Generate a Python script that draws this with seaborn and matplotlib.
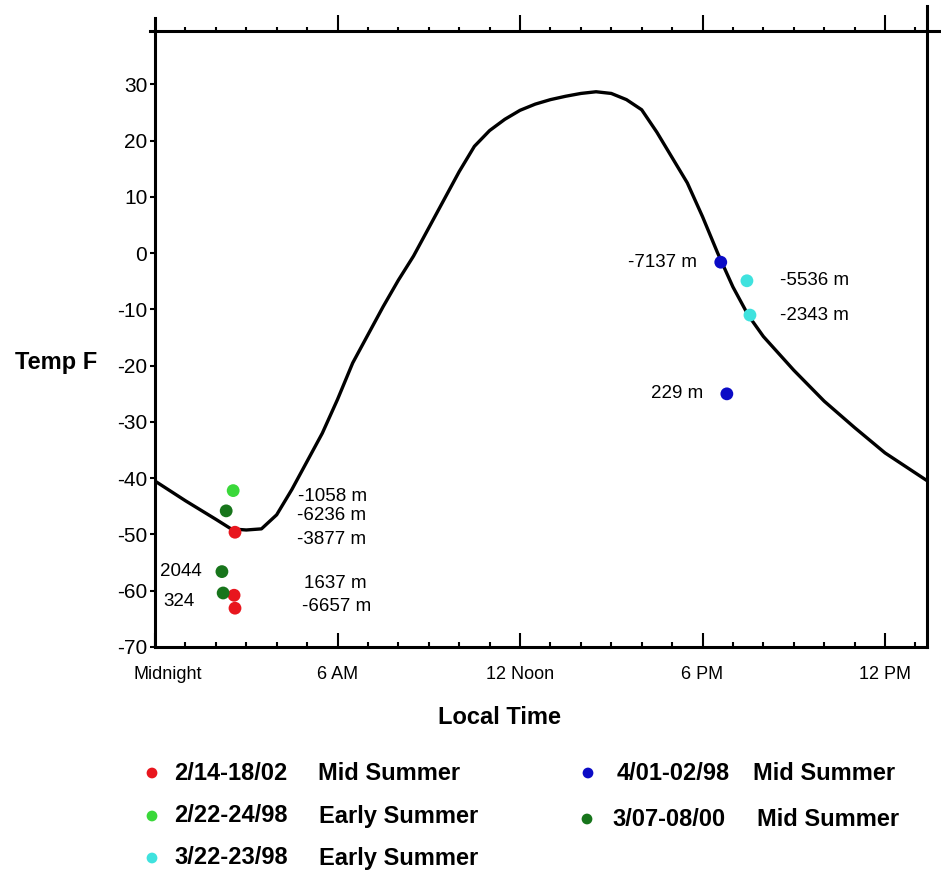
# Daily temperature cycle with sounding points, redrawn with seaborn

import matplotlib
matplotlib.use('Agg')
import matplotlib.pyplot as plt
import matplotlib.transforms as mtransforms
import pandas as pd
import seaborn as sns

# mean temperature curve (hours after midnight, deg F)
curve_hours = [0, 1, 2, 2.5, 3, 3.5, 4, 4.5, 5, 5.5, 6, 6.5, 7, 7.5, 8, 8.5,
               9, 9.5, 10, 10.5, 11, 11.5, 12, 12.5, 13, 13.5, 14, 14.5, 15,
               15.5, 16, 16.5, 17, 17.5, 18, 18.5, 19, 19.5, 20, 20.5, 21,
               22, 23, 24, 25.4]
curve_temps = [-40.5, -44.0, -47.3, -49.0, -49.2, -49.0, -46.5, -42.0, -37.0,
               -32.0, -26.0, -19.5, -14.5, -9.5, -4.8, -0.5, 4.5, 9.5, 14.5,
               19.0, 21.8, 23.8, 25.4, 26.5, 27.3, 27.9, 28.4, 28.7, 28.4,
               27.3, 25.5, 21.5, 17.0, 12.5, 6.5, 0.0, -6.0, -11.0, -14.8,
               -17.8, -20.8, -26.3, -31.0, -35.5, -40.5]

# individual observations
pt_series = ['2/14-18/02', '2/14-18/02', '2/14-18/02', '2/22-24/98',
             '3/07-08/00', '3/07-08/00', '3/07-08/00', '4/01-02/98',
             '3/22-23/98', '3/22-23/98', '4/01-02/98']
pt_hours = [2.63, 2.60, 2.63, 2.57, 2.34, 2.20, 2.24, 18.6, 19.46, 19.56, 18.8]
pt_temps = [-49.6, -60.8, -63.1, -42.2, -45.8, -56.6, -60.4, -1.6, -4.9, -11.0, -25.0]
pt_labels = ['-3877 m', '1637 m', '-6657 m', '-1058 m', '-6236 m', '2044', '324',
             '-7137 m', '-5536 m', '-2343 m', '229 m']

# legend entries
leg_dates = ['2/14-18/02', '2/22-24/98', '3/22-23/98', '4/01-02/98', '3/07-08/00']
leg_seasons = ['Mid Summer', 'Early Summer', 'Early Summer', 'Mid Summer', 'Mid Summer']

x_tick_pos = [0, 6, 12, 18, 24]
x_tick_labels = ['Midnight', '6 AM', '12 Noon', '6 PM', '12 PM']
y_ticks = [-70, -60, -50, -40, -30, -20, -10, 0, 10, 20, 30]

# ---- styling -------------------------------------------------------------
COLORS = {
    '2/14-18/02': '#e8161e',
    '2/22-24/98': '#3ad83a',
    '3/22-23/98': '#3fe2de',
    '4/01-02/98': '#0b0bc6',
    '3/07-08/00': '#17751b',
}
# label offsets in pixels (dx, dy) and alignment
label_offsets = [(62, -7, 'left'), (70, 12, 'left'), (67, 2, 'left'),
                 (65, -6, 'left'), (71, -5, 'left'), (-20, 0, 'right'),
                 (-29, -9, 'right'), (-24, 0, 'right'), (33, 0, 'left'),
                 (30, 0, 'left'), (-24, 0, 'right')]
# (marker x, date x, season x) and row y, in figure pixels
LEG_COL_X = [(152, 174, 318), (152, 174, 319), (152, 174, 319),
             (588, 617, 753), (587, 612, 757)]
LEG_ROW_Y = [773, 816, 858, 773, 819]

W, H = 941, 877
X_MAX = 25.38
Y_MIN, Y_MAX = -70, 39.5
LW = 2.2

sns.set_style('white')
plt.rcParams['font.family'] = ['Liberation Sans', 'DejaVu Sans']
plt.rcParams['axes.unicode_minus'] = False
plt.rcParams['text.color'] = 'black'
plt.rcParams['axes.labelcolor'] = 'black'
plt.rcParams['xtick.color'] = 'black'
plt.rcParams['ytick.color'] = 'black'

fig = plt.figure(figsize=(W / 100, H / 100), dpi=100)
ax = fig.add_axes([155 / W, 1 - 647 / H, (927 - 155) / W, (647 - 31) / H])

sns.lineplot(x=curve_hours, y=curve_temps, color='black', linewidth=2.4,
             sort=False, ax=ax, zorder=2)

pts = pd.DataFrame({'hour': pt_hours, 'temp': pt_temps, 'series': pt_series})
sns.scatterplot(data=pts, x='hour', y='temp', hue='series', palette=COLORS,
                s=85, edgecolor='none', legend=False, ax=ax, zorder=3)

for h, t, lab, (dx, dy, ha) in zip(pt_hours, pt_temps, pt_labels, label_offsets):
    ax.annotate(lab, xy=(h, t), xytext=(dx, dy), textcoords='offset pixels',
                ha=ha, va='center', fontsize=13.5, color='black')

ax.set_xlim(0, X_MAX)
ax.set_ylim(Y_MIN, Y_MAX)

# spines: heavy black, with the odd overshoots of the original
for sp in ax.spines.values():
    sp.set_linewidth(LW)
    sp.set_color('black')
ax.spines['top'].set_bounds(-5 / 30.42, (W - 155) / 30.42)
ax.spines['left'].set_bounds(Y_MIN, Y_MAX + 13 / 5.626)
ax.spines['right'].set_bounds(Y_MIN, Y_MAX + 25 / 5.626)

# bottom ticks point inward
ax.set_xticks(x_tick_pos)
ax.set_xticklabels(x_tick_labels)
ax.set_xticks(range(1, 26), minor=True)
ax.tick_params(axis='x', which='major', direction='in', length=10, width=1.5,
               pad=14, labelsize=13, top=False, bottom=True)
ax.tick_params(axis='x', which='minor', direction='in', length=3.6, width=1.5,
               top=False, bottom=True)
# "Midnight" sits a little right of its tick in the original
first = ax.get_xticklabels()[0]
first.set_transform(first.get_transform() +
                    mtransforms.ScaledTranslation(13 / 100, 0, fig.dpi_scale_trans))

# top ticks point outward
sec = ax.secondary_xaxis('top')
for sp in sec.spines.values():
    sp.set_visible(False)
sec.set_xticks(x_tick_pos[1:])
sec.set_xticks(range(1, 26), minor=True)
sec.tick_params(axis='x', which='major', direction='out', length=11.5,
                width=1.5, labeltop=False)
sec.tick_params(axis='x', which='minor', direction='out', length=3,
                width=1.5)

ax.set_yticks(y_ticks)
ax.tick_params(axis='y', which='major', direction='out', length=3.5,
               width=1.5, pad=2, labelsize=15, left=True, right=False)

ax.set_xlabel('Local Time', fontsize=17, fontweight='bold')
ax.xaxis.set_label_coords((500 - 155) / 772, (647 - 718) / 616)
ax.xaxis.label.set_va('center')
ax.set_ylabel('Temp F', fontsize=17, fontweight='bold', rotation=0,
              ha='left', va='center')
ax.yaxis.set_label_coords((15 - 155) / 772, (647 - 362) / 616)

# legend drawn in a pixel-space overlay
leg = fig.add_axes([0, 0, 1, 1], zorder=-1)
leg.set_xlim(0, W)
leg.set_ylim(H, 0)
leg.axis('off')
for (mx, dx, sx), y, date, season in zip(LEG_COL_X, LEG_ROW_Y, leg_dates, leg_seasons):
    leg.scatter([mx], [y], s=60, color=COLORS[date], edgecolor='none')
    leg.text(dx, y, date, fontsize=17, fontweight='bold', va='center', ha='left')
    leg.text(sx, y, season, fontsize=17, fontweight='bold', va='center', ha='left')

fig.savefig('out.png', dpi=100)
plt.close(fig)
